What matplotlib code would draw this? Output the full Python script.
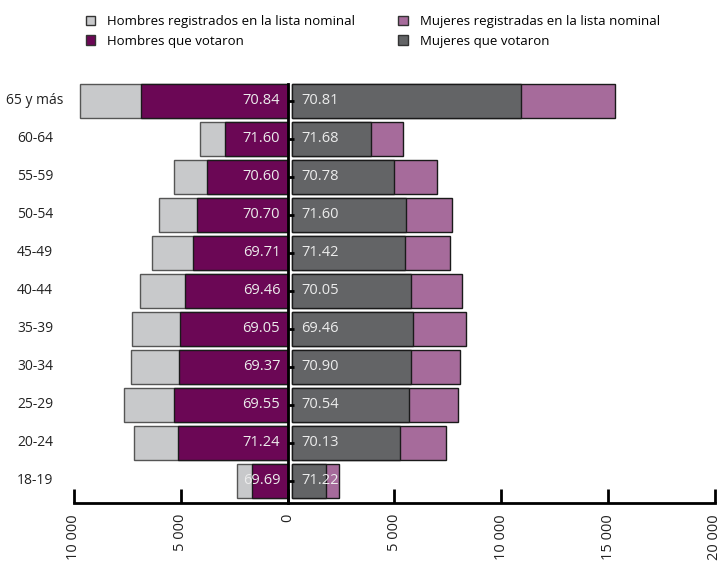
import numpy as np
import matplotlib
matplotlib.use('Agg')
import matplotlib.pyplot as plt
from matplotlib.patches import Patch
from matplotlib.transforms import blended_transform_factory

plt.rcParams['font.family'] = ['Open Sans', 'DejaVu Sans']

# age groups, bottom to top
grupos = ['18-19', '20-24', '25-29', '30-34', '35-39', '40-44',
          '45-49', '50-54', '55-59', '60-64', '65 y más']

hombres_registrados = [2380, 7180, 7650, 7350, 7300, 6920, 6350, 6000, 5330, 4100, 9700]
hombres_votaron = [1659, 5115, 5321, 5099, 5041, 4807, 4427, 4242, 3763, 2935, 6871]
mujeres_registradas = [2230, 7210, 7800, 7860, 8160, 7960, 7420, 7490, 6790, 5200, 15150]
mujeres_votaron = [1588, 5056, 5502, 5573, 5668, 5576, 5299, 5363, 4806, 3727, 10728]

pct_hombres = ['69.69', '71.24', '69.55', '69.37', '69.05', '69.46',
               '69.71', '70.70', '70.60', '71.60', '70.84']
pct_mujeres = ['71.22', '70.13', '70.54', '70.90', '69.46', '70.05',
               '71.42', '71.60', '70.78', '71.68', '70.81']

xticks = [-10000, -5000, 0, 5000, 10000, 15000, 20000]
xticklabels = ['10 000', '5 000', '0', '5 000', '10 000', '15 000', '20 000']

c_hreg = '#c8c9cb'
c_hvot = '#6b0755'
c_mreg = '#a66b9b'
c_mvot = '#636466'
edge = '#1a1a1a'

fig = plt.figure(figsize=(7.21, 5.69), dpi=100)
ax = fig.add_axes([0.1026, 0.116, 0.889, 0.740])

y = np.arange(len(grupos))
h = 0.89
gap = 190  # small space between the two halves

hreg = -np.array(hombres_registrados)
hvot = -np.array(hombres_votaron)
ax.barh(y, hreg, height=h, color=c_hreg, edgecolor='#555555', linewidth=1)
ax.barh(y, hvot, height=h, color=c_hvot, edgecolor=edge, linewidth=1)
ax.barh(y, mujeres_registradas, left=gap, height=h, color=c_mreg, edgecolor=edge, linewidth=1)
ax.barh(y, mujeres_votaron, left=gap, height=h, color=c_mvot, edgecolor=edge, linewidth=1)

for i in range(len(grupos)):
    ax.text(-350, y[i], pct_hombres[i], ha='right', va='center',
            color='#ececec', fontsize=10.5)
    ax.text(gap + 450, y[i], pct_mujeres[i], ha='left', va='center',
            color='#ececec', fontsize=10.5)

# category labels on the far left
tr = blended_transform_factory(fig.transFigure, ax.transData)
for i, g in enumerate(grupos):
    ax.text(35 / 721, y[i], g, transform=tr, ha='center', va='center',
            fontsize=10, color='#222222')

ax.set_xlim(-10000, 20000)
ax.set_ylim(-0.58, 10.5)

ax.set_xticks(xticks)
ax.set_xticklabels(xticklabels, rotation=90, fontsize=10.5, color='#222222')
ax.tick_params(axis='x', direction='in', length=10, width=2, pad=8)

ax.set_yticks(y)
ax.set_yticklabels([])
ax.tick_params(axis='y', direction='in', length=4, width=2)

for s in ['top', 'right']:
    ax.spines[s].set_visible(False)
ax.spines['left'].set_position(('data', 0))
ax.spines['left'].set_bounds(-0.58, 10.45)
ax.spines['left'].set_linewidth(2)
ax.spines['bottom'].set_linewidth(2)

handles = [
    Patch(facecolor=c_hreg, edgecolor='#333333', label='Hombres registrados en la lista nominal'),
    Patch(facecolor=c_hvot, edgecolor='#333333', label='Hombres que votaron'),
    Patch(facecolor=c_mreg, edgecolor='#333333', label='Mujeres registradas en la lista nominal'),
    Patch(facecolor=c_mvot, edgecolor='#333333', label='Mujeres que votaron'),
]
fig.legend(handles=handles, ncol=2, loc='center', bbox_to_anchor=(0.517, 0.945),
           frameon=False, handlelength=0.7, handleheight=0.7,
           handletextpad=0.9, columnspacing=3.3, labelspacing=0.5,
           prop={'family': ['Open Sans', 'DejaVu Sans'], 'size': 9.5})

fig.savefig('out.png', dpi=100)
